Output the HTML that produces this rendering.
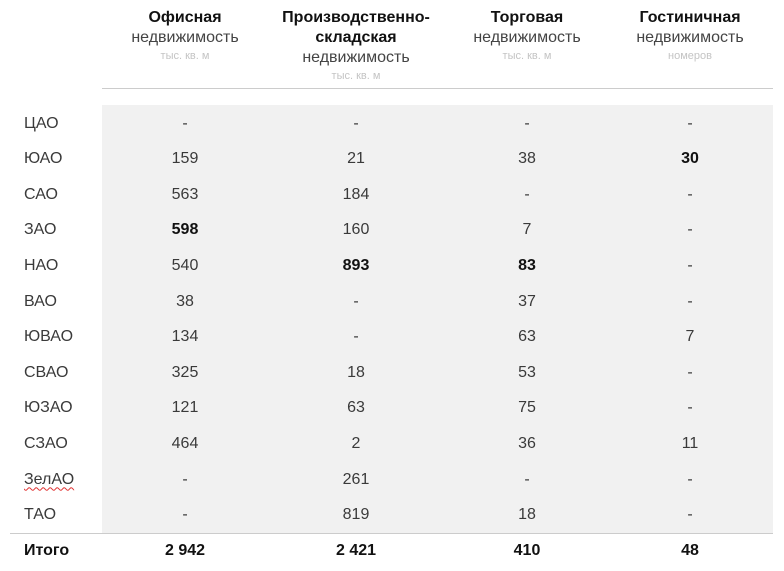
<!DOCTYPE html>
<html><head><meta charset="utf-8"><style>
body{margin:0;width:784px;height:571px;background:#fff;position:relative;overflow:hidden;font-family:"Liberation Sans","DejaVu Sans",sans-serif;}
.a{position:absolute;transform:translate(-50%,-50%);white-space:nowrap;color:#3a3a3a;font-size:16px;}
.l{position:absolute;transform:translateY(-50%);left:24px;color:#3a3a3a;font-size:16px;}
.b{font-weight:bold;color:#111;}
.s{font-size:11px;color:#c4c4c4;}
.h{font-size:16px;color:#444;}
.w{text-decoration:underline wavy #e03030;text-decoration-thickness:1px;text-underline-offset:3px;}
</style></head><body>
<div style="position:absolute;left:102px;top:105px;width:671px;height:428px;background:#f1f1f1"></div>
<div style="position:absolute;left:102px;top:88px;width:671px;height:1px;background:#ccc"></div>
<div style="position:absolute;left:10px;top:533px;width:763px;height:1px;background:#ccc"></div>

<div class="a b" style="left:185px;top:18px">Офисная</div>
<div class="a h" style="left:185px;top:38px">недвижимость</div>
<div class="a s" style="left:185px;top:56px">тыс. кв. м</div>

<div class="a b" style="left:356px;top:18px">Производственно-</div>
<div class="a b" style="left:356px;top:38px">складская</div>
<div class="a h" style="left:356px;top:58px">недвижимость</div>
<div class="a s" style="left:356px;top:76px">тыс. кв. м</div>

<div class="a b" style="left:527px;top:18px">Торговая</div>
<div class="a h" style="left:527px;top:38px">недвижимость</div>
<div class="a s" style="left:527px;top:56px">тыс. кв. м</div>

<div class="a b" style="left:690px;top:18px">Гостиничная</div>
<div class="a h" style="left:690px;top:38px">недвижимость</div>
<div class="a s" style="left:690px;top:56px">номеров</div>

<div id="rows"></div>
<script>
var d=[["ЦАО","-","-","-","-"],["ЮАО","159","21","38","*30"],["САО","563","184","-","-"],["ЗАО","*598","160","7","-"],["НАО","540","*893","*83","-"],["ВАО","38","-","37","-"],["ЮВАО","134","-","63","7"],["СВАО","325","18","53","-"],["ЮЗАО","121","63","75","-"],["СЗАО","464","2","36","11"],["ЗелАО","-","261","-","-"],["ТАО","-","819","18","-"]];
var xs=[185,356,527,690],h="";
d.forEach(function(r,i){var y=123.5+i*35.6;
h+='<div class="l" style="top:'+y+'px"><span'+(r[0]=="ЗелАО"?' class="w"':'')+'>'+r[0]+'</span></div>';
for(var j=1;j<5;j++){var v=r[j],b=v[0]=="*";if(b)v=v.slice(1);
h+='<div class="a'+(b?' b':'')+'" style="left:'+xs[j-1]+'px;top:'+y+'px">'+v+'</div>';}});
h+='<div class="l b" style="top:550.5px">Итого</div>';
["2 942","2 421","410","48"].forEach(function(v,j){h+='<div class="a b" style="left:'+xs[j]+'px;top:550.5px">'+v+'</div>';});
document.getElementById("rows").innerHTML=h;
</script>
</body></html>
